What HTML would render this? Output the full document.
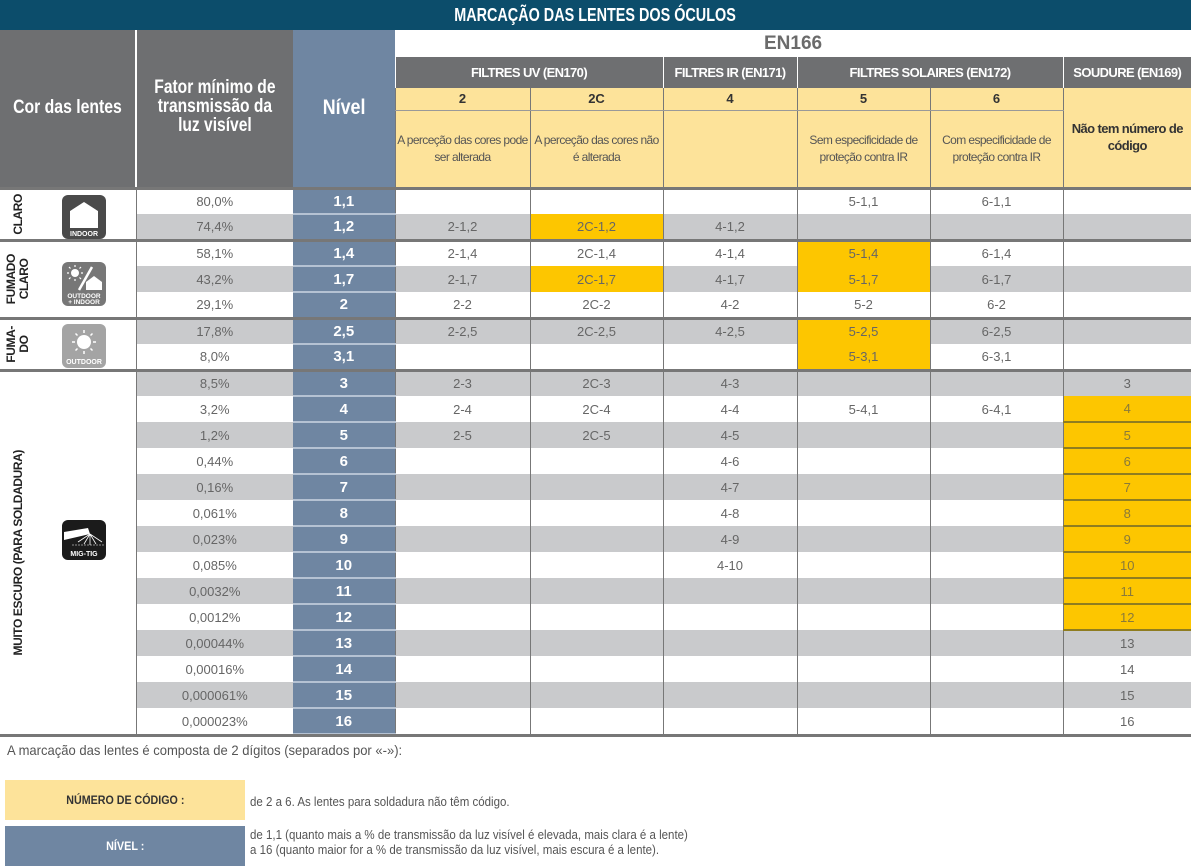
<!DOCTYPE html>
<html><head><meta charset="utf-8">
<style>
*{margin:0;padding:0;box-sizing:border-box}
body{width:1191px;height:867px;background:#fff;font-family:"Liberation Sans",sans-serif;color:#555;position:relative;overflow:hidden}
.sx{display:inline-block;white-space:nowrap}
.title{position:absolute;left:0;top:0;width:1191px;height:30px;background:#0c4d6b;color:#fff;font-weight:bold;font-size:18px;text-align:center;line-height:30px}
table{position:absolute;left:0;top:30px;border-collapse:collapse;table-layout:fixed;width:1191px}
td{padding:0;text-align:center;vertical-align:middle;font-size:13px;overflow:hidden;white-space:nowrap}
.hg{background:#6e6f71;color:#fff;font-weight:bold}
.hb{background:#6f86a2;color:#fff;font-weight:bold}
.en{color:#6b6b6b;font-weight:bold;font-size:19px;height:27px;background:#fff}
.fl{height:31px;background:#6e6f71;color:#fff;font-weight:bold;font-size:13px;border-left:1px solid #fff;letter-spacing:-0.6px}
.cd{height:22px;background:#fde39a;color:#333;font-weight:bold;font-size:13px;border-left:1px solid #777;border-bottom:1px solid #999}
.ds{height:78px;background:#fde39a;color:#555;font-size:12px;border-left:1px solid #777;white-space:normal;line-height:17px;letter-spacing:-0.6px}
tr.d td{height:26px;border-left:1px solid #777;color:#666}
tr.d td.c1{border-left:1px solid #777}
tr.w td{background:#fff}
tr.g td{background:#c9cacc}
tr.d td.nv{background:#6f86a2;color:#fff;font-weight:bold;font-size:15px;border-bottom:2px solid #b5c2d3;border-left:none}
tr.d td.y{background:#fdc600}
tr.d td.ys{background:#fdc600;color:#8a7a3a;border-bottom:2px solid #8f7d20;border-left:1px solid #777}
tr.s td{border-top:3px solid #777}
td.c0{background:#fff!important;border-left:none!important;position:relative}
.vl{position:absolute;left:8px;top:0;bottom:0;display:flex;align-items:center;justify-content:center;width:20px}
.vl span{writing-mode:vertical-rl;transform:rotate(180deg);color:#222;font-weight:bold;font-size:12px;line-height:13px;text-align:center;letter-spacing:-0.4px}
.ic{position:absolute;left:62px;width:44px;height:44px;border-radius:6px;color:#fff;font-size:7px;font-weight:bold}
.note{position:absolute;left:7px;top:742px;font-size:14px;color:#555;transform:scaleX(.93);transform-origin:left;white-space:nowrap}
.box{position:absolute;left:5px;width:240px;height:40px;font-weight:bold;font-size:12px;text-align:center;line-height:40px}
.bt{position:absolute;left:250px;font-size:12.5px;color:#555;line-height:15px;transform:scaleX(.92);transform-origin:left;white-space:nowrap}
.bottomline{position:absolute;left:0;top:734px;width:1191px;height:3px;background:#777}
</style></head><body>
<div class="title"><span class="sx" style="transform:scaleX(.8)">MARCAÇÃO DAS LENTES DOS ÓCULOS</span></div>
<table>
<colgroup><col style="width:136px"><col style="width:157px"><col style="width:102px"><col style="width:135px"><col style="width:133px"><col style="width:134px"><col style="width:133px"><col style="width:133px"><col style="width:128px"></colgroup>
<tr>
<td rowspan="4" class="hg" style="font-size:19px"><span class="sx" style="transform:scaleX(.83)">Cor das lentes</span></td>
<td rowspan="4" class="hg" style="font-size:19px;line-height:19px;border-left:2px solid #fff"><span class="sx" style="transform:scaleX(.82);margin-top:-4px">Fator mínimo de<br>transmissão da<br>luz visível</span></td>
<td rowspan="4" class="hb" style="font-size:21px"><span class="sx" style="transform:scaleX(.85)">Nível</span></td>
<td colspan="6" class="en"><span class="sx">EN166</span></td>
</tr>
<tr><td colspan="2" class="fl">FILTRES UV (EN170)</td><td class="fl">FILTRES IR (EN171)</td><td colspan="2" class="fl">FILTRES SOLAIRES (EN172)</td><td class="fl">SOUDURE (EN169)</td></tr>
<tr><td class="cd">2</td><td class="cd">2C</td><td class="cd">4</td><td class="cd">5</td><td class="cd">6</td><td rowspan="2" class="ds" style="font-weight:bold;color:#333;font-size:13px;letter-spacing:-0.6px">Não tem número de<br>código</td></tr>
<tr><td class="ds">A perceção das cores pode<br>ser alterada</td><td class="ds">A perceção das cores não<br>é alterada</td><td class="ds"></td><td class="ds">Sem especificidade de<br>proteção contra IR</td><td class="ds">Com especificidade de<br>proteção contra IR</td></tr>

<tr class="d w s"><td rowspan="2" class="c0"><div class="vl"><span>CLARO</span></div><div class="ic" style="top:5px;background:#4a4a4a"><svg width="44" height="44"><path d="M8 16 L22 7 L36 16 L36 33 L8 33 Z" fill="#fff"/><path d="M6 16 L22 5 L38 16" stroke="#4a4a4a" stroke-width="2" fill="none"/><text x="22" y="41" fill="#fff" font-size="7" font-weight="bold" text-anchor="middle" font-family="Liberation Sans">INDOOR</text></svg></div></td><td class="c1">80,0%</td><td class="nv">1,1</td><td></td><td></td><td></td><td>5-1,1</td><td>6-1,1</td><td></td></tr>
<tr class="d g"><td class="c1">74,4%</td><td class="nv">1,2</td><td>2-1,2</td><td class="y">2C-1,2</td><td>4-1,2</td><td></td><td></td><td></td></tr>

<tr class="d w s"><td rowspan="3" class="c0"><div class="vl"><span>FUMADO<br>CLARO</span></div><div class="ic" style="top:20px;background:#777"><svg width="44" height="44"><circle cx="13" cy="11" r="4" fill="#fff"/><path d="M13 3v2M13 17v2M5 11h2M19 11h2M7 5l1.5 1.5M17.5 15.5l1.5 1.5M7 17l1.5-1.5M17.5 6.5l1.5-1.5" stroke="#fff" stroke-width="1.2"/><path d="M17 28 L30 5" stroke="#fff" stroke-width="2.5"/><path d="M24 20 L32 14 L40 20 L40 28 L24 28Z" fill="#fff"/><text x="22" y="36" fill="#fff" font-size="6.5" font-weight="bold" text-anchor="middle" font-family="Liberation Sans">OUTDOOR</text><text x="22" y="42" fill="#fff" font-size="6.5" font-weight="bold" text-anchor="middle" font-family="Liberation Sans">+ INDOOR</text></svg></div></td><td class="c1">58,1%</td><td class="nv">1,4</td><td>2-1,4</td><td>2C-1,4</td><td>4-1,4</td><td class="y">5-1,4</td><td>6-1,4</td><td></td></tr>
<tr class="d g"><td class="c1">43,2%</td><td class="nv">1,7</td><td>2-1,7</td><td class="y">2C-1,7</td><td>4-1,7</td><td class="y">5-1,7</td><td>6-1,7</td><td></td></tr>
<tr class="d w"><td class="c1">29,1%</td><td class="nv">2</td><td>2-2</td><td>2C-2</td><td>4-2</td><td>5-2</td><td>6-2</td><td></td></tr>

<tr class="d g s"><td rowspan="2" class="c0"><div class="vl"><span>FUMA-<br>DO</span></div><div class="ic" style="top:4px;background:#a4a4a4"><svg width="44" height="44"><circle cx="22" cy="18" r="7" fill="#fff"/><path d="M22 6v3M22 27v3M10 18h3M31 18h3M13.5 9.5l2 2M28.5 24.5l2 2M13.5 26.5l2-2M28.5 11.5l2-2" stroke="#fff" stroke-width="1.5"/><text x="22" y="40" fill="#fff" font-size="7" font-weight="bold" text-anchor="middle" font-family="Liberation Sans">OUTDOOR</text></svg></div></td><td class="c1">17,8%</td><td class="nv">2,5</td><td>2-2,5</td><td>2C-2,5</td><td>4-2,5</td><td class="y">5-2,5</td><td>6-2,5</td><td></td></tr>
<tr class="d w"><td class="c1">8,0%</td><td class="nv">3,1</td><td></td><td></td><td></td><td class="y">5-3,1</td><td>6-3,1</td><td></td></tr>

<tr class="d g s"><td rowspan="14" class="c0"><div class="vl"><span>MUITO ESCURO (PARA SOLDADURA)</span></div><div class="ic" style="top:148px;width:44px;height:40px;background:#1b1b1b"><svg width="44" height="40"><path d="M2 12 L26 8 L28 14 L2 20 Z" fill="#fff"/><path d="M28 14 L22 24M28 14 L34 24M28 14 L28 25M28 14 L16 22M28 14 L40 22" stroke="#fff" stroke-width="0.8"/><path d="M10 25 H42" stroke="#fff" stroke-width="0.6" stroke-dasharray="2 1"/><text x="22" y="36" fill="#fff" font-size="7" font-weight="bold" text-anchor="middle" font-family="Liberation Sans">MIG-TIG</text></svg></div></td><td class="c1">8,5%</td><td class="nv">3</td><td>2-3</td><td>2C-3</td><td>4-3</td><td></td><td></td><td>3</td></tr>
<tr class="d w"><td class="c1">3,2%</td><td class="nv">4</td><td>2-4</td><td>2C-4</td><td>4-4</td><td>5-4,1</td><td>6-4,1</td><td class="ys">4</td></tr>
<tr class="d g"><td class="c1">1,2%</td><td class="nv">5</td><td>2-5</td><td>2C-5</td><td>4-5</td><td></td><td></td><td class="ys">5</td></tr>
<tr class="d w"><td class="c1">0,44%</td><td class="nv">6</td><td></td><td></td><td>4-6</td><td></td><td></td><td class="ys">6</td></tr>
<tr class="d g"><td class="c1">0,16%</td><td class="nv">7</td><td></td><td></td><td>4-7</td><td></td><td></td><td class="ys">7</td></tr>
<tr class="d w"><td class="c1">0,061%</td><td class="nv">8</td><td></td><td></td><td>4-8</td><td></td><td></td><td class="ys">8</td></tr>
<tr class="d g"><td class="c1">0,023%</td><td class="nv">9</td><td></td><td></td><td>4-9</td><td></td><td></td><td class="ys">9</td></tr>
<tr class="d w"><td class="c1">0,085%</td><td class="nv">10</td><td></td><td></td><td>4-10</td><td></td><td></td><td class="ys">10</td></tr>
<tr class="d g"><td class="c1">0,0032%</td><td class="nv">11</td><td></td><td></td><td></td><td></td><td></td><td class="ys">11</td></tr>
<tr class="d w"><td class="c1">0,0012%</td><td class="nv">12</td><td></td><td></td><td></td><td></td><td></td><td class="ys">12</td></tr>
<tr class="d g"><td class="c1">0,00044%</td><td class="nv">13</td><td></td><td></td><td></td><td></td><td></td><td>13</td></tr>
<tr class="d w"><td class="c1">0,00016%</td><td class="nv">14</td><td></td><td></td><td></td><td></td><td></td><td>14</td></tr>
<tr class="d g"><td class="c1">0,000061%</td><td class="nv">15</td><td></td><td></td><td></td><td></td><td></td><td>15</td></tr>
<tr class="d w"><td class="c1">0,000023%</td><td class="nv">16</td><td></td><td></td><td></td><td></td><td></td><td>16</td></tr>
</table>
<div class="bottomline"></div>
<div class="note">A marcação das lentes é composta de 2 dígitos (separados por «-»):</div>
<div class="box" style="top:780px;background:#fde39a;color:#333"><span class="sx" style="transform:scaleX(.89)">NÚMERO DE CÓDIGO :</span></div>
<div class="bt" style="top:795px">de 2 a 6. As lentes para soldadura não têm código.</div>
<div class="box" style="top:826px;background:#6f86a2;color:#fff"><span class="sx" style="transform:scaleX(.9)">NÍVEL :</span></div>
<div class="bt" style="top:828px">de 1,1 (quanto mais a % de transmissão da luz visível é elevada, mais clara é a lente)<br>a 16 (quanto maior for a % de transmissão da luz visível, mais escura é a lente).</div>
</body></html>
